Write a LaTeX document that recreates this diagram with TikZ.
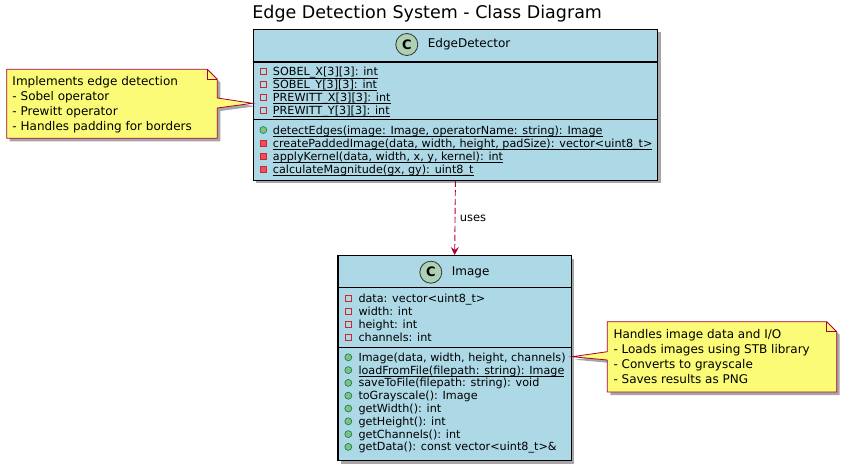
\documentclass[tikz,border=0pt]{standalone}
\usepackage{fontspec}
\setmainfont{DejaVu Sans}
\usetikzlibrary{positioning,shadows,arrows.meta}

\definecolor{classblue}{HTML}{ADD8E6}
\definecolor{umlred}{HTML}{A80036}
\definecolor{notefill}{HTML}{FBFB77}
\definecolor{spotfill}{HTML}{ADD1B2}
\definecolor{privred}{HTML}{C82930}
\definecolor{privfill}{HTML}{F24D5C}
\definecolor{pubgreen}{HTML}{038048}
\definecolor{pubfill}{HTML}{84BE84}

\newsavebox{\umlbox}
\newcommand{\umlstatic}[1]{\sbox{\umlbox}{#1}\rlap{\rule[-2.6pt]{\wd\umlbox}{0.7pt}}\usebox{\umlbox}}

\tikzset{
  umlshadow/.style={drop shadow={shadow xshift=3pt, shadow yshift=-3pt, opacity=0.35, fill=black}},
  classbox/.style={draw=black, line width=1.3pt, fill=classblue, anchor=north west, inner sep=0pt, umlshadow},
  sepline/.style={draw=black, line width=1.1pt},
  spot/.style={circle, draw=black!80, line width=0.8pt, fill=spotfill, minimum size=22pt, inner sep=0pt, font=\fontsize{13}{13}\selectfont\bfseries},
  classname/.style={anchor=west, inner sep=0pt, font=\fontsize{12}{14}\selectfont},
  member/.style={anchor=base west, inner sep=0pt, font=\fontsize{11.2}{13}\selectfont},
  privfield/.style={draw=privred, line width=0.8pt, minimum size=6pt, inner sep=0pt},
  privmethod/.style={draw=privred, fill=privfill, line width=0.8pt, minimum size=6pt, inner sep=0pt},
  pubmethod/.style={circle, draw=pubgreen, fill=pubfill, line width=0.6pt, minimum size=7pt, inner sep=0pt},
  umlnote/.style={draw=umlred, line width=0.8pt, fill=notefill, umlshadow},
  notetext/.style={anchor=base west, inner sep=0pt, align=left, font=\fontsize{12}{15}\selectfont},
  usesarrow/.style={draw=umlred, line width=0.9pt, dash pattern=on 6pt off 3pt, -{Stealth[length=8pt, width=8pt, inset=3pt]}},
}

\begin{document}
\begin{tikzpicture}[x=1pt, y=-1pt]
\useasboundingbox (0,0) rectangle (847,467);

% title
\node[anchor=base, inner sep=0pt, font=\fontsize{17.5}{20}\selectfont] (title) at (427.2,18.3) {Edge Detection System - Class Diagram};

% EdgeDetector class
\node[classbox, minimum width=404.5pt, minimum height=151pt] (edge) at (252.5,28.5) {};
\draw[sepline] (edge.west |- 0,62) -- (edge.east |- 0,62);
\draw[sepline] (edge.west |- 0,119.5) -- (edge.east |- 0,119.5);
\node[classname] (edgename) at (427.7,44.5) {EdgeDetector};
\node[spot, left=9.5pt of edgename] (edgespot) {C};
\foreach \txt/\kind [count=\i from 0] in {%
  {\umlstatic{SOBEL\_X[3][3]: int}}/privfield,
  {\umlstatic{SOBEL\_Y[3][3]: int}}/privfield,
  {\umlstatic{PREWITT\_X[3][3]: int}}/privfield,
  {\umlstatic{PREWITT\_Y[3][3]: int}}/privfield}
{
  \node[\kind] (eicon\i) at (263.3,71.6+12.8*\i) {};
  \node[member] (eattr\i) at (272.7,75.6+12.8*\i) {\txt};
}
\foreach \txt/\kind [count=\i from 0] in {%
  {\umlstatic{detectEdges(image: Image, operatorName: string): Image}}/pubmethod,
  {\umlstatic{createPaddedImage(data, width, height, padSize): vector<uint8\_t>}}/privmethod,
  {\umlstatic{applyKernel(data, width, x, y, kernel): int}}/privmethod,
  {\umlstatic{calculateMagnitude(gx, gy): uint8\_t}}/privmethod}
{
  \node[\kind] (eopicon\i) at (263.3,130+13.1*\i) {};
  \node[member] (eop\i) at (272.7,134+13.1*\i) {\txt};
}

% Image class
\node[classbox, minimum width=233.5pt, minimum height=205pt] (image) at (337.3,255) {};
\draw[sepline] (image.west |- 0,287.3) -- (image.east |- 0,287.3);
\draw[sepline] (image.west |- 0,347.3) -- (image.east |- 0,347.3);
\node[classname] (imagename) at (451.7,272.2) {Image};
\node[spot, left=9.5pt of imagename] (imagespot) {C};
\foreach \txt/\kind [count=\i from 0] in {%
  {data: vector<uint8\_t>}/privfield,
  {width: int}/privfield,
  {height: int}/privfield,
  {channels: int}/privfield}
{
  \node[\kind] (iicon\i) at (348.3,298.3+12.9*\i) {};
  \node[member] (iattr\i) at (358.3,302.3+12.9*\i) {\txt};
}
\foreach \txt/\kind [count=\i from 0] in {%
  {Image(data, width, height, channels)}/pubmethod,
  {\umlstatic{loadFromFile(filepath: string): Image}}/pubmethod,
  {saveToFile(filepath: string): void}/pubmethod,
  {toGrayscale(): Image}/pubmethod,
  {getWidth(): int}/pubmethod,
  {getHeight(): int}/pubmethod,
  {getChannels(): int}/pubmethod,
  {getData(): const vector<uint8\_t>\&}/pubmethod}
{
  \node[\kind] (iopicon\i) at (348.3,357.3+12.8*\i) {};
  \node[member] (iop\i) at (358.3,361.3+12.8*\i) {\txt};
}

% dependency
\draw[usesarrow] (edge.south) -- (image.north)
  node[midway, right=1pt, font=\fontsize{11.5}{13}\selectfont] (useslabel) {uses};

% notes
\coordinate (edgetip) at (edge.west |- 0,103.3);
\path[umlnote] (6.7,69.3) -- (207.3,69.3) -- (217.3,79.3) -- (217.3,98) -- (edgetip)
  -- (217.3,108) -- (217.3,138.3) -- (6.7,138.3) -- cycle;
\draw[umlred, line width=0.8pt] (207.3,69.3) -- (207.3,79.3) -- (217.3,79.3);
\node[notetext] (edgenote) at (12.3,130.4) {Implements edge detection\\- Sobel operator\\- Prewitt operator\\- Handles padding for borders};

\coordinate (imagetip) at (image.east |- 0,356.7);
\path[umlnote] (607.3,321.7) -- (826.7,321.7) -- (836.7,331.7) -- (836.7,392) -- (607.3,392)
  -- (607.3,360) -- (imagetip) -- (607.3,351.7) -- cycle;
\draw[umlred, line width=0.8pt] (826.7,321.7) -- (826.7,331.7) -- (836.7,331.7);
\node[notetext] (imagenote) at (613.3,383.7) {Handles image data and I/O\\- Loads images using STB library\\- Converts to grayscale\\- Saves results as PNG};
\end{tikzpicture}
\end{document}
